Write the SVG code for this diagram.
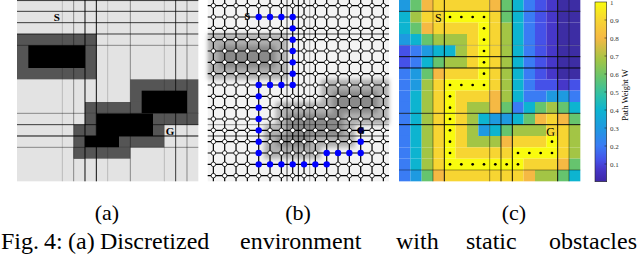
<svg xmlns="http://www.w3.org/2000/svg" width="640" height="255" viewBox="0 0 640 255">
<style>
.bg{fill:#e3e3e3}
.dg{fill:#555555}
.bk{fill:#000000}
.ln{vector-effect:non-scaling-stroke;stroke-width:1;fill:none}
.l1{stroke:#000;stroke-opacity:0.18}
.l2{stroke:#000;stroke-opacity:0.4}
.l3{stroke:#000;stroke-opacity:0.75}
.l4{stroke:#000;stroke-opacity:0.95}
.lat{vector-effect:non-scaling-stroke;stroke:#000;stroke-width:1.2;fill:none}
.nd{fill:#ffffff;stroke:#000;stroke-width:0.8;vector-effect:non-scaling-stroke}
.pn{fill:#0000ff}
.dot{fill:#000}
.D{fill:#3d2da4}.P{fill:#4637c9}.B1{fill:#4551e8}.B{fill:#3a7cf4}.L{fill:#1e9ae0}.C{fill:#0db4d0}.T{fill:#2ec0a8}.G{fill:#66c46e}.Y1{fill:#a3c545}.O{fill:#f5b944}.Y{fill:#f7d532}.W{fill:#f9fb0e}
.lbl{font-family:"Liberation Serif","Times New Roman",serif;fill:#000}
.tk{font-family:"Liberation Serif","Times New Roman",serif;font-size:7px;fill:#333}
.ob1{fill:#b0b0b0}
.ob2{fill:#8a8a8a}
</style>
<defs>
<filter id="blur" x="-20%" y="-20%" width="140%" height="140%"><feGaussianBlur stdDeviation="0.18"/></filter>
<linearGradient id="parula" x1="0" y1="1" x2="0" y2="0">
<stop offset="0" stop-color="#3e27a6"/><stop offset="0.07" stop-color="#4637c9"/><stop offset="0.12" stop-color="#4551e8"/><stop offset="0.2" stop-color="#3a7cf4"/><stop offset="0.3" stop-color="#1e9ae0"/><stop offset="0.4" stop-color="#0db4d0"/><stop offset="0.48" stop-color="#2ec0a8"/><stop offset="0.58" stop-color="#66c46e"/><stop offset="0.68" stop-color="#a3c545"/><stop offset="0.8" stop-color="#f5b944"/><stop offset="0.9" stop-color="#f7d532"/><stop offset="1" stop-color="#f9fb0e"/>
</linearGradient>
<g id="noderow">
<circle class="nd" cx="0.5" cy="0" r="0.2"/><circle class="nd" cx="1.5" cy="0" r="0.2"/><circle class="nd" cx="2.5" cy="0" r="0.2"/><circle class="nd" cx="3.5" cy="0" r="0.2"/><circle class="nd" cx="4.5" cy="0" r="0.2"/><circle class="nd" cx="5.5" cy="0" r="0.2"/><circle class="nd" cx="6.5" cy="0" r="0.2"/><circle class="nd" cx="7.5" cy="0" r="0.2"/><circle class="nd" cx="8.5" cy="0" r="0.2"/><circle class="nd" cx="9.5" cy="0" r="0.2"/><circle class="nd" cx="10.5" cy="0" r="0.2"/><circle class="nd" cx="11.5" cy="0" r="0.2"/><circle class="nd" cx="12.5" cy="0" r="0.2"/><circle class="nd" cx="13.5" cy="0" r="0.2"/><circle class="nd" cx="14.5" cy="0" r="0.2"/><circle class="nd" cx="15.5" cy="0" r="0.2"/>
</g>
</defs>

<!-- Panel (a) -->
<g id="panel-a">
<g transform="translate(17 0) scale(11.333)">
<rect class="bg" x="0" y="0" width="16" height="16"/>
<g id="obstacle-a1">
<rect class="dg" x="0" y="3" width="7" height="4"/>
<rect class="bk" x="1" y="4" width="5" height="2"/>
</g>
<g id="obstacle-a2">
<rect class="dg" x="10" y="7" width="6" height="3"/>
<rect class="dg" x="6" y="9" width="5" height="1"/>
<rect class="dg" x="6" y="10" width="1" height="2"/>
<rect class="dg" x="5" y="11" width="1" height="3"/>
<rect class="dg" x="12" y="10" width="4" height="1"/>
<rect class="dg" x="12" y="11" width="1" height="1"/>
<rect class="dg" x="9" y="12" width="4" height="1"/>
<rect class="dg" x="5" y="13" width="5" height="1"/>
<rect class="bk" x="11" y="8" width="4" height="2"/>
<rect class="bk" x="7" y="10" width="5" height="2"/>
<rect class="bk" x="6" y="12" width="3" height="1"/>
</g>
<g id="lines-a">
<line class="ln l1" x1="4" y1="0" x2="4" y2="16"/>
<line class="ln l2" x1="5" y1="0" x2="5" y2="16"/>
<line class="ln l4" x1="6" y1="0" x2="6" y2="16"/>
<line class="ln l4" x1="7" y1="0" x2="7" y2="16"/>
<line class="ln l1" x1="8" y1="0" x2="8" y2="16"/>
<line class="ln l2" x1="10" y1="0" x2="10" y2="16"/>
<line class="ln l1" x1="13" y1="0" x2="13" y2="16"/>
<line class="ln l3" x1="14" y1="0" x2="14" y2="16"/>
<line class="ln l2" x1="15" y1="0" x2="15" y2="16"/>
<line class="ln l3" x1="0" y1="0.05" x2="16" y2="0.05"/>
<line class="ln l3" x1="0" y1="1" x2="16" y2="1"/>
<line class="ln l3" x1="0" y1="2" x2="16" y2="2"/>
<line class="ln l3" x1="0" y1="3" x2="16" y2="3"/>
<line class="ln l2" x1="0" y1="4" x2="16" y2="4"/>
<line class="ln l2" x1="0" y1="10" x2="16" y2="10"/>
<line class="ln l3" x1="0" y1="11" x2="16" y2="11"/>
<line class="ln l4" x1="0" y1="12" x2="16" y2="12"/>
<line class="ln l2" x1="0" y1="13" x2="16" y2="13"/>
</g>
</g>
<text class="lbl" x="56.7" y="21" font-size="11" font-weight="bold" text-anchor="middle">S</text>
<text class="lbl" x="170" y="135" font-size="11" font-weight="bold" text-anchor="middle">G</text>
</g>

<!-- Panel (b) -->
<g id="panel-b">
<g transform="translate(207.7 0) scale(11.333)">
<rect x="0" y="0" width="16" height="16" fill="#f3f3f3"/>
<g filter="url(#blur)" id="obstacle-b">
<rect class="ob1" x="0" y="3" width="7" height="4"/>
<rect class="ob2" x="1" y="4" width="5" height="2"/>
<rect class="ob1" x="10" y="7" width="6" height="3"/>
<rect class="ob1" x="6" y="9" width="5" height="1"/>
<rect class="ob1" x="6" y="10" width="1" height="2"/>
<rect class="ob1" x="5" y="11" width="1" height="3"/>
<rect class="ob1" x="12" y="10" width="4" height="1"/>
<rect class="ob1" x="12" y="11" width="1" height="1"/>
<rect class="ob1" x="9" y="12" width="4" height="1"/>
<rect class="ob1" x="5" y="13" width="5" height="1"/>
<rect class="ob2" x="11" y="8" width="4" height="2"/>
<rect class="ob2" x="7" y="10" width="5" height="2"/>
<rect class="ob2" x="6" y="12" width="3" height="1"/>
</g>
<g id="lines-b">
<line class="ln l3" x1="7" y1="0" x2="7" y2="16"/>
<line class="ln l4" x1="8" y1="0" x2="8" y2="16"/>
<line class="ln l2" x1="9" y1="0" x2="9" y2="16"/>
<line class="ln l3" x1="0" y1="3" x2="16" y2="3"/>
<line class="ln l2" x1="0" y1="11" x2="16" y2="11"/>
<line class="ln l3" x1="0" y1="12" x2="16" y2="12"/>
</g>
<g id="connectors">
<path class="lat" d="M0 0.5H16M0 1.5H16M0 2.5H16M0 3.5H16M0 4.5H16M0 5.5H16M0 6.5H16M0 7.5H16M0 8.5H16M0 9.5H16M0 10.5H16M0 11.5H16M0 12.5H16M0 13.5H16M0 14.5H16M0 15.5H16"/>
<path class="lat" d="M0.5 0V16M1.5 0V16M2.5 0V16M3.5 0V16M4.5 0V16M5.5 0V16M6.5 0V16M7.5 0V16M8.5 0V16M9.5 0V16M10.5 0V16M11.5 0V16M12.5 0V16M13.5 0V16M14.5 0V16M15.5 0V16"/>
</g>
<g id="lattice-nodes">
<use href="#noderow" y="0.5"/><use href="#noderow" y="1.5"/><use href="#noderow" y="2.5"/><use href="#noderow" y="3.5"/>
<use href="#noderow" y="4.5"/><use href="#noderow" y="5.5"/><use href="#noderow" y="6.5"/><use href="#noderow" y="7.5"/>
<use href="#noderow" y="8.5"/><use href="#noderow" y="9.5"/><use href="#noderow" y="10.5"/><use href="#noderow" y="11.5"/>
<use href="#noderow" y="12.5"/><use href="#noderow" y="13.5"/><use href="#noderow" y="14.5"/><use href="#noderow" y="15.5"/>
</g>
<g id="path-nodes-b" class="pn">
<circle cx="4.5" cy="1.5" r="0.28"/><circle cx="5.5" cy="1.5" r="0.28"/><circle cx="6.5" cy="1.5" r="0.28"/><circle cx="7.5" cy="1.5" r="0.28"/>
<circle cx="7.5" cy="2.5" r="0.28"/><circle cx="7.5" cy="3.5" r="0.28"/><circle cx="7.5" cy="4.5" r="0.28"/><circle cx="7.5" cy="5.5" r="0.28"/><circle cx="7.5" cy="6.5" r="0.28"/><circle cx="7.5" cy="7.5" r="0.28"/>
<circle cx="6.5" cy="7.5" r="0.28"/><circle cx="5.5" cy="7.5" r="0.28"/><circle cx="4.5" cy="7.5" r="0.28"/>
<circle cx="4.5" cy="8.5" r="0.28"/><circle cx="4.5" cy="9.5" r="0.28"/><circle cx="4.5" cy="10.5" r="0.28"/><circle cx="4.5" cy="11.5" r="0.28"/><circle cx="4.5" cy="12.5" r="0.28"/><circle cx="4.5" cy="13.5" r="0.28"/><circle cx="4.5" cy="14.5" r="0.28"/>
<circle cx="5.5" cy="14.5" r="0.28"/><circle cx="6.5" cy="14.5" r="0.28"/><circle cx="7.5" cy="14.5" r="0.28"/><circle cx="8.5" cy="14.5" r="0.28"/><circle cx="9.5" cy="14.5" r="0.28"/><circle cx="10.5" cy="14.5" r="0.28"/>
<circle cx="10.5" cy="13.5" r="0.28"/><circle cx="11.5" cy="13.5" r="0.28"/><circle cx="12.5" cy="13.5" r="0.28"/><circle cx="13.5" cy="13.5" r="0.28"/>
<circle cx="13.5" cy="12.5" r="0.28"/><circle cx="13.5" cy="11.5" r="0.28" fill="#000066"/>
</g>
</g>
<text class="lbl" x="247.3" y="20" font-size="10" font-weight="bold" text-anchor="middle">S</text>
<text class="lbl" x="361" y="134" font-size="10" font-weight="bold" text-anchor="middle">G</text>
</g>

<!-- Panel (c) -->
<g id="panel-c">
<g transform="translate(399 0) scale(11.333)">
<g id="heatmap">
<g transform="translate(0 0)"><rect class="L" x="0" width="1" height="1"/><rect class="G" x="1" width="1" height="1"/><rect class="O" x="2" width="1" height="1"/><rect class="Y" x="3" width="5" height="1"/><rect class="O" x="8" width="1" height="1"/><rect class="G" x="9" width="1" height="1"/><rect class="C" x="10" width="1" height="1"/><rect class="B" x="11" width="1" height="1"/><rect class="B1" x="12" width="1" height="1"/><rect class="P" x="13" width="1" height="1"/><rect class="D" x="14" width="2" height="1"/></g>
<g transform="translate(0 1)"><rect class="C" x="0" width="1" height="1"/><rect class="Y1" x="1" width="1" height="1"/><rect class="Y" x="2" width="2" height="1"/><rect class="W" x="4" width="4" height="1"/><rect class="Y" x="8" width="1" height="1"/><rect class="G" x="9" width="1" height="1"/><rect class="C" x="10" width="1" height="1"/><rect class="B" x="11" width="1" height="1"/><rect class="B1" x="12" width="1" height="1"/><rect class="P" x="13" width="1" height="1"/><rect class="D" x="14" width="2" height="1"/></g>
<g transform="translate(0 2)"><rect class="C" x="0" width="1" height="1"/><rect class="G" x="1" width="1" height="1"/><rect class="O" x="2" width="1" height="1"/><rect class="Y" x="3" width="4" height="1"/><rect class="W" x="7" width="1" height="1"/><rect class="Y" x="8" width="1" height="1"/><rect class="Y1" x="9" width="1" height="1"/><rect class="C" x="10" width="1" height="1"/><rect class="B" x="11" width="1" height="1"/><rect class="B1" x="12" width="1" height="1"/><rect class="P" x="13" width="1" height="1"/><rect class="D" x="14" width="2" height="1"/></g>
<g transform="translate(0 3)"><rect class="L" x="0" width="1" height="1"/><rect class="C" x="1" width="1" height="1"/><rect class="G" x="2" width="1" height="1"/><rect class="Y1" x="3" width="3" height="1"/><rect class="Y" x="6" width="1" height="1"/><rect class="W" x="7" width="1" height="1"/><rect class="Y" x="8" width="1" height="1"/><rect class="Y1" x="9" width="1" height="1"/><rect class="C" x="10" width="1" height="1"/><rect class="B" x="11" width="1" height="1"/><rect class="B1" x="12" width="1" height="1"/><rect class="P" x="13" width="1" height="1"/><rect class="D" x="14" width="2" height="1"/></g>
<g transform="translate(0 4)"><rect class="B1" x="0" width="1" height="1"/><rect class="B" x="1" width="1" height="1"/><rect class="L" x="2" width="1" height="1"/><rect class="C" x="3" width="2" height="1"/><rect class="Y1" x="5" width="1" height="1"/><rect class="Y" x="6" width="1" height="1"/><rect class="W" x="7" width="1" height="1"/><rect class="Y" x="8" width="1" height="1"/><rect class="Y1" x="9" width="1" height="1"/><rect class="C" x="10" width="1" height="1"/><rect class="B" x="11" width="1" height="1"/><rect class="B1" x="12" width="1" height="1"/><rect class="P" x="13" width="1" height="1"/><rect class="D" x="14" width="2" height="1"/></g>
<g transform="translate(0 5)"><rect class="B1" x="0" width="1" height="1"/><rect class="B" x="1" width="1" height="1"/><rect class="C" x="2" width="1" height="1"/><rect class="G" x="3" width="1" height="1"/><rect class="Y1" x="4" width="2" height="1"/><rect class="Y" x="6" width="1" height="1"/><rect class="W" x="7" width="1" height="1"/><rect class="Y" x="8" width="1" height="1"/><rect class="Y1" x="9" width="1" height="1"/><rect class="C" x="10" width="1" height="1"/><rect class="B" x="11" width="1" height="1"/><rect class="B1" x="12" width="1" height="1"/><rect class="P" x="13" width="1" height="1"/><rect class="D" x="14" width="2" height="1"/></g>
<g transform="translate(0 6)"><rect class="B" x="0" width="1" height="1"/><rect class="L" x="1" width="1" height="1"/><rect class="G" x="2" width="1" height="1"/><rect class="O" x="3" width="1" height="1"/><rect class="Y" x="4" width="3" height="1"/><rect class="W" x="7" width="1" height="1"/><rect class="Y" x="8" width="1" height="1"/><rect class="Y1" x="9" width="1" height="1"/><rect class="C" x="10" width="1" height="1"/><rect class="B" x="11" width="1" height="1"/><rect class="B1" x="12" width="1" height="1"/><rect class="P" x="13" width="1" height="1"/><rect class="D" x="14" width="2" height="1"/></g>
<g transform="translate(0 7)"><rect class="B" x="0" width="1" height="1"/><rect class="L" x="1" width="1" height="1"/><rect class="Y1" x="2" width="1" height="1"/><rect class="Y" x="3" width="1" height="1"/><rect class="W" x="4" width="4" height="1"/><rect class="Y" x="8" width="1" height="1"/><rect class="Y1" x="9" width="1" height="1"/><rect class="C" x="10" width="1" height="1"/><rect class="B" x="11" width="1" height="1"/><rect class="B1" x="12" width="2" height="1"/><rect class="P" x="14" width="1" height="1"/><rect class="B1" x="15" width="1" height="1"/></g>
<g transform="translate(0 8)"><rect class="B" x="0" width="1" height="1"/><rect class="C" x="1" width="1" height="1"/><rect class="Y1" x="2" width="1" height="1"/><rect class="Y" x="3" width="1" height="1"/><rect class="W" x="4" width="1" height="1"/><rect class="Y" x="5" width="3" height="1"/><rect class="O" x="8" width="1" height="1"/><rect class="Y1" x="9" width="1" height="1"/><rect class="C" x="10" width="1" height="1"/><rect class="B" x="11" width="2" height="1"/><rect class="L" x="13" width="2" height="1"/><rect class="B" x="15" width="1" height="1"/></g>
<g transform="translate(0 9)"><rect class="B" x="0" width="1" height="1"/><rect class="C" x="1" width="1" height="1"/><rect class="Y1" x="2" width="1" height="1"/><rect class="Y" x="3" width="1" height="1"/><rect class="W" x="4" width="1" height="1"/><rect class="Y" x="5" width="1" height="1"/><rect class="Y1" x="6" width="2" height="1"/><rect class="O" x="8" width="1" height="1"/><rect class="G" x="9" width="1" height="1"/><rect class="B" x="10" width="1" height="1"/><rect class="C" x="11" width="1" height="1"/><rect class="G" x="12" width="1" height="1"/><rect class="Y1" x="13" width="1" height="1"/><rect class="G" x="14" width="1" height="1"/><rect class="C" x="15" width="1" height="1"/></g>
<g transform="translate(0 10)"><rect class="B" x="0" width="1" height="1"/><rect class="C" x="1" width="1" height="1"/><rect class="Y1" x="2" width="1" height="1"/><rect class="Y" x="3" width="1" height="1"/><rect class="W" x="4" width="1" height="1"/><rect class="Y" x="5" width="1" height="1"/><rect class="Y1" x="6" width="1" height="1"/><rect class="C" x="7" width="1" height="1"/><rect class="L" x="8" width="2" height="1"/><rect class="C" x="10" width="1" height="1"/><rect class="G" x="11" width="1" height="1"/><rect class="O" x="12" width="1" height="1"/><rect class="Y" x="13" width="1" height="1"/><rect class="O" x="14" width="1" height="1"/><rect class="G" x="15" width="1" height="1"/></g>
<g transform="translate(0 11)"><rect class="B" x="0" width="1" height="1"/><rect class="C" x="1" width="1" height="1"/><rect class="Y1" x="2" width="1" height="1"/><rect class="Y" x="3" width="1" height="1"/><rect class="W" x="4" width="1" height="1"/><rect class="Y" x="5" width="1" height="1"/><rect class="Y1" x="6" width="1" height="1"/><rect class="L" x="7" width="1" height="1"/><rect class="C" x="8" width="1" height="1"/><rect class="G" x="9" width="1" height="1"/><rect class="Y1" x="10" width="3" height="1"/><rect class="Y" x="13" width="2" height="1"/><rect class="Y1" x="15" width="1" height="1"/></g>
<g transform="translate(0 12)"><rect class="B" x="0" width="1" height="1"/><rect class="C" x="1" width="1" height="1"/><rect class="Y1" x="2" width="1" height="1"/><rect class="Y" x="3" width="1" height="1"/><rect class="W" x="4" width="1" height="1"/><rect class="Y" x="5" width="1" height="1"/><rect class="Y1" x="6" width="3" height="1"/><rect class="O" x="9" width="1" height="1"/><rect class="Y" x="10" width="3" height="1"/><rect class="W" x="13" width="1" height="1"/><rect class="Y" x="14" width="1" height="1"/><rect class="Y1" x="15" width="1" height="1"/></g>
<g transform="translate(0 13)"><rect class="B" x="0" width="1" height="1"/><rect class="C" x="1" width="1" height="1"/><rect class="Y1" x="2" width="1" height="1"/><rect class="Y" x="3" width="1" height="1"/><rect class="W" x="4" width="1" height="1"/><rect class="Y" x="5" width="5" height="1"/><rect class="W" x="10" width="4" height="1"/><rect class="Y" x="14" width="1" height="1"/><rect class="Y1" x="15" width="1" height="1"/></g>
<g transform="translate(0 14)"><rect class="B" x="0" width="1" height="1"/><rect class="C" x="1" width="1" height="1"/><rect class="Y1" x="2" width="1" height="1"/><rect class="Y" x="3" width="1" height="1"/><rect class="W" x="4" width="7" height="1"/><rect class="Y" x="11" width="3" height="1"/><rect class="O" x="14" width="1" height="1"/><rect class="G" x="15" width="1" height="1"/></g>
<g transform="translate(0 15)"><rect class="B" x="0" width="1" height="1"/><rect class="L" x="1" width="1" height="1"/><rect class="G" x="2" width="1" height="1"/><rect class="O" x="3" width="1" height="1"/><rect class="Y" x="4" width="7" height="1"/><rect class="O" x="11" width="1" height="1"/><rect class="Y1" x="12" width="2" height="1"/><rect class="G" x="14" width="1" height="1"/><rect class="C" x="15" width="1" height="1"/></g>
</g>
<g id="lines-c">
<line class="ln l2" x1="3" y1="0" x2="3" y2="16"/>
<line class="ln l4" x1="4" y1="0" x2="4" y2="16"/>
<line class="ln l2" x1="8" y1="0" x2="8" y2="16"/>
<line class="ln l3" x1="9" y1="0" x2="9" y2="16"/>
<line class="ln l4" x1="10" y1="0" x2="10" y2="16"/>
<line class="ln l4" x1="14" y1="0" x2="14" y2="16"/>
<line class="ln l2" x1="15" y1="0" x2="15" y2="16"/>
<line class="ln l3" x1="0" y1="1" x2="16" y2="1"/>
<line class="ln l1" x1="0" y1="4" x2="16" y2="4"/>
<line class="ln l4" x1="0" y1="5" x2="16" y2="5"/>
<line class="ln l4" x1="0" y1="6" x2="16" y2="6"/>
<line class="ln l3" x1="0" y1="10" x2="16" y2="10"/>
<line class="ln l4" x1="0" y1="11" x2="16" y2="11"/>
<line class="ln l2" x1="0" y1="15" x2="16" y2="15"/>
</g>
<g id="path-dots-c" class="dot">
<circle cx="4.5" cy="1.5" r="0.12"/><circle cx="5.5" cy="1.5" r="0.12"/><circle cx="6.5" cy="1.5" r="0.12"/><circle cx="7.5" cy="1.5" r="0.12"/>
<circle cx="7.5" cy="2.5" r="0.12"/><circle cx="7.5" cy="3.5" r="0.12"/><circle cx="7.5" cy="4.5" r="0.12"/><circle cx="7.5" cy="5.5" r="0.12"/><circle cx="7.5" cy="6.5" r="0.12"/><circle cx="7.5" cy="7.5" r="0.12"/>
<circle cx="6.5" cy="7.5" r="0.12"/><circle cx="5.5" cy="7.5" r="0.12"/><circle cx="4.5" cy="7.5" r="0.12"/>
<circle cx="4.5" cy="8.5" r="0.12"/><circle cx="4.5" cy="9.5" r="0.12"/><circle cx="4.5" cy="10.5" r="0.12"/><circle cx="4.5" cy="11.5" r="0.12"/><circle cx="4.5" cy="12.5" r="0.12"/><circle cx="4.5" cy="13.5" r="0.12"/><circle cx="4.5" cy="14.5" r="0.12"/>
<circle cx="5.5" cy="14.5" r="0.12"/><circle cx="6.5" cy="14.5" r="0.12"/><circle cx="7.5" cy="14.5" r="0.12"/><circle cx="8.5" cy="14.5" r="0.12"/><circle cx="9.5" cy="14.5" r="0.12"/><circle cx="10.5" cy="14.5" r="0.12"/>
<circle cx="10.5" cy="13.5" r="0.12"/><circle cx="11.5" cy="13.5" r="0.12"/><circle cx="12.5" cy="13.5" r="0.12"/><circle cx="13.5" cy="13.5" r="0.12"/>
<circle cx="13.5" cy="12.5" r="0.12"/>
</g>
</g>
<text class="lbl" x="438.3" y="22" font-size="12" text-anchor="middle">S</text>
<text class="lbl" x="550.5" y="136" font-size="12" text-anchor="middle">G</text>
</g>

<!-- Colorbar -->
<g id="colorbar">
<rect x="595" y="2" width="11.7" height="179.7" fill="url(#parula)" stroke="#222" stroke-width="0.6"/>
<g stroke="#222" stroke-width="0.6">
<line x1="604.5" y1="20" x2="606.7" y2="20"/><line x1="604.5" y1="38" x2="606.7" y2="38"/><line x1="604.5" y1="56" x2="606.7" y2="56"/><line x1="604.5" y1="74" x2="606.7" y2="74"/><line x1="604.5" y1="92" x2="606.7" y2="92"/><line x1="604.5" y1="110" x2="606.7" y2="110"/><line x1="604.5" y1="128" x2="606.7" y2="128"/><line x1="604.5" y1="146" x2="606.7" y2="146"/><line x1="604.5" y1="164" x2="606.7" y2="164"/>
</g>
<text class="tk" x="610" y="4.5">1</text>
<text class="tk" x="610" y="22.5">0.9</text>
<text class="tk" x="610" y="40.5">0.8</text>
<text class="tk" x="610" y="58.5">0.7</text>
<text class="tk" x="610" y="76.5">0.6</text>
<text class="tk" x="610" y="94.5">0.5</text>
<text class="tk" x="610" y="112.5">0.4</text>
<text class="tk" x="610" y="130.5">0.3</text>
<text class="tk" x="610" y="148.5">0.2</text>
<text class="tk" x="610" y="166.5">0.1</text>
<text class="lbl" font-size="8.5" fill="#333" text-anchor="middle" transform="translate(628 95) rotate(-90)">Path Weight W</text>
</g>

<!-- Captions -->
<g id="captions">
<text class="lbl" x="107" y="220" font-size="22" text-anchor="middle">(a)</text>
<text class="lbl" x="298" y="220" font-size="22" text-anchor="middle">(b)</text>
<text class="lbl" x="514" y="220" font-size="22" text-anchor="middle">(c)</text>
<text class="lbl" y="249" font-size="24"><tspan x="1">Fig.</tspan><tspan x="44">4:</tspan><tspan x="68">(a)</tspan><tspan x="100">Discretized</tspan><tspan x="240">environment</tspan><tspan x="396">with</tspan><tspan x="466">static</tspan><tspan x="549">obstacles</tspan></text>
</g>
</svg>
